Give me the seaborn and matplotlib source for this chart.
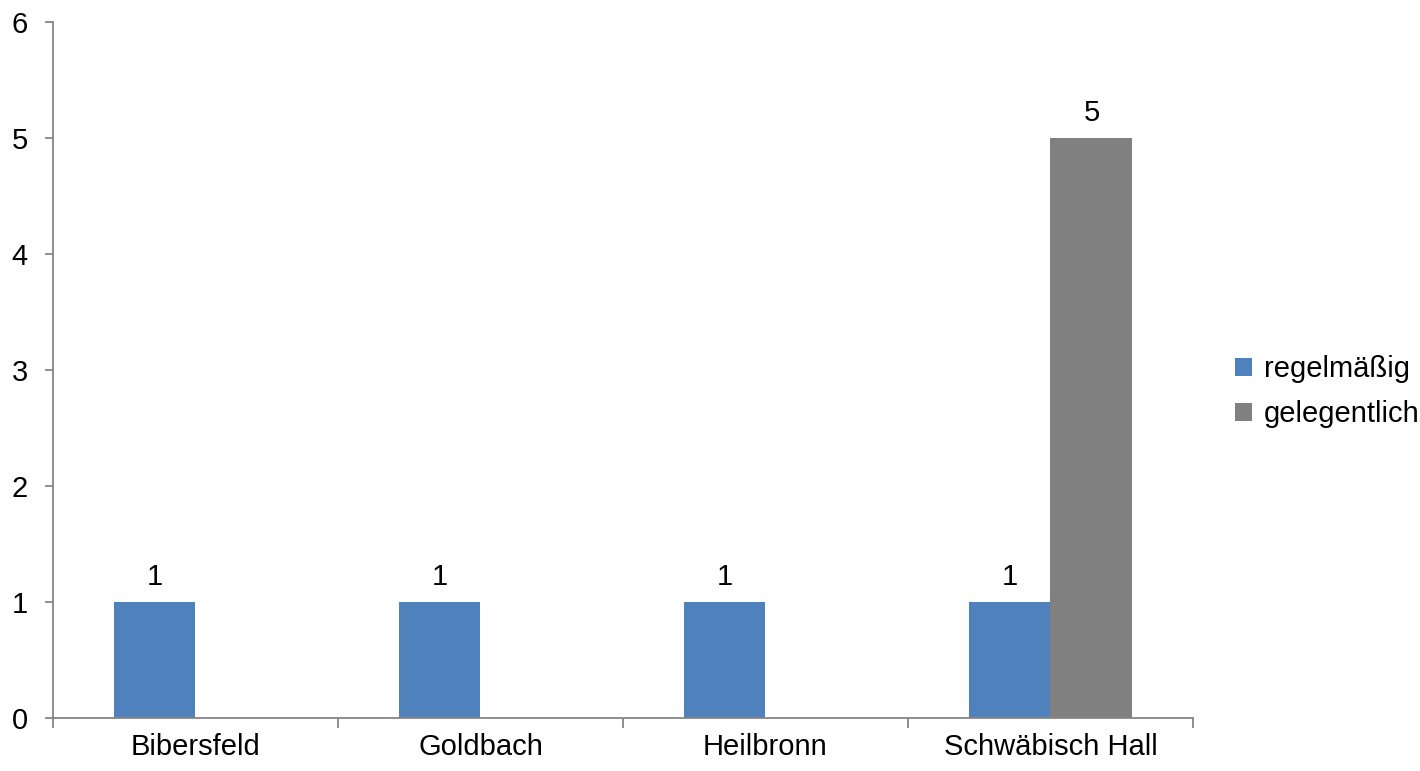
import numpy as np
import pandas as pd
import matplotlib
matplotlib.use("Agg")
import matplotlib.pyplot as plt
import seaborn as sns
from matplotlib.patches import Patch

# Data
orte = ["Bibersfeld", "Goldbach", "Heilbronn", "Schwäbisch Hall"]
regelmaessig = [1, 1, 1, 1]
gelegentlich = [np.nan, np.nan, np.nan, 5]
serien = ["regelmäßig", "gelegentlich"]
farben = ["#4F81BD", "#808080"]
y_ticks = [0, 1, 2, 3, 4, 5, 6]

df = pd.DataFrame({
    "Ort": orte * 2,
    "Wert": regelmaessig + gelegentlich,
    "Serie": [serien[0]] * len(orte) + [serien[1]] * len(orte),
})

sns.set_theme(style="white")
plt.rcParams["font.family"] = ["Liberation Sans", "DejaVu Sans"]
plt.rcParams["text.color"] = "black"

FS = 21

fig = plt.figure(figsize=(14.2, 7.71), dpi=100)
ax = fig.add_axes([0.0373, 0.0687, 0.8028, 0.9028])

sns.barplot(data=df, x="Ort", y="Wert", hue="Serie", order=orte,
            hue_order=serien, palette=farben, width=0.575,
            saturation=1, linewidth=0, ax=ax, legend=False)

# Value labels above the bars
n = len(serien)
bw = 0.575 / n
for j, (name, vals) in enumerate(zip(serien, [regelmaessig, gelegentlich])):
    for i, v in enumerate(vals):
        if np.isnan(v):
            continue
        xpos = i - 0.575 / 2 + bw * (j + 0.5)
        ax.annotate(f"{v:g}", (xpos, v), xytext=(0, 8), textcoords="offset points",
                    ha="center", va="bottom", fontsize=FS, color="black")

ax.set_xlim(-0.5, len(orte) - 0.5)
ax.set_ylim(0, 6)
ax.set_yticks(y_ticks)
ax.set_xlabel("")
ax.set_ylabel("")

spine_col = "#868686"
for s in ["top", "right"]:
    ax.spines[s].set_visible(False)
for s in ["left", "bottom"]:
    ax.spines[s].set_color(spine_col)
    ax.spines[s].set_linewidth(1.3)

ax.tick_params(axis="y", which="major", direction="out", length=6, width=1.3,
               color=spine_col, labelsize=FS, labelcolor="black", pad=12, left=True)
ax.tick_params(axis="x", which="major", length=0, labelsize=FS, labelcolor="black", pad=11)
ax.set_xticks(np.arange(-0.5, len(orte)), minor=True)
ax.tick_params(axis="x", which="minor", direction="out", length=7, width=1.3,
               color=spine_col, bottom=True)

handles = [Patch(facecolor=c, edgecolor="none", label=l) for c, l in zip(farben, serien)]
fig.legend(handles=handles, loc="center left", bbox_to_anchor=(0.851, 0.492),
           frameon=False, fontsize=FS, handlelength=0.6, handleheight=0.6,
           handletextpad=0.4, labelspacing=0.58, labelcolor="black")

fig.savefig("out.png", dpi=100)
